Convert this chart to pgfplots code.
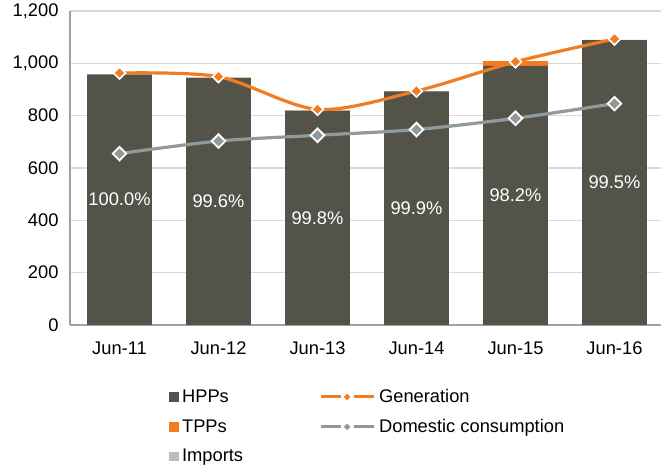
\documentclass[border=0pt]{standalone}
\usepackage{fontspec}
\setmainfont{Liberation Sans}
\usepackage{pgfplots}
\pgfplotsset{compat=1.18}

\definecolor{hppc}{HTML}{54534A}
\definecolor{tppc}{HTML}{F47B20}
\definecolor{impc}{HTML}{BFBDB3}
\definecolor{genc}{HTML}{F07D22}
\definecolor{domc}{HTML}{8F9A9A}
\definecolor{gridc}{HTML}{D9D9D9}
\definecolor{axc}{HTML}{A0A0A0}
\newcommand{\fs}{\fontsize{18.3}{22}\selectfont}

% x = Jun-11 ... Jun-16, values in GWh
\pgfplotstableread{
x hpp tpp imp
0 958  0 0
1 944  1 0
2 819  1 0
3 893  1 0
4 990 18 0
5 1089 1 0
}\bars

\pgfplotsset{
  base/.style={
    scale only axis, width=591pt, height=314pt,
    xmin=-0.5, xmax=5.47, ymin=0, ymax=1200,
  },
}

\begin{document}
\begin{tikzpicture}
\begin{axis}[
    base, name=ax,
    ybar stacked, bar width=0.655,
    ytick={0,200,...,1200},
    xtick={0,...,5},
    xticklabels={Jun-11,Jun-12,Jun-13,Jun-14,Jun-15,Jun-16},
    ymajorgrids, grid style={color=gridc, line width=1.2pt},
    axis x line*=bottom, axis y line*=left,
    axis line style={-, color=axc, line width=1.8pt},
    major tick length=0pt,
    tick label style={font=\fs},
    yticklabel style={xshift=-8pt},
    xticklabel style={yshift=-13pt},
    /pgf/number format/1000 sep={,},
    /pgf/number format/assume math mode=true,
]
\addplot[fill=hppc, draw=none] table[x=x, y=hpp] {\bars};
\addplot[fill=tppc, draw=none] table[x=x, y=tpp] {\bars};
\addplot[fill=impc, draw=none] table[x=x, y=imp] {\bars};
\end{axis}

\begin{axis}[
    base, axis lines=none,
    legend columns=2, legend cell align=left,
    legend style={at={(0.167,-0.205)}, anchor=north west, draw=none, fill=none,
      font=\fs, inner sep=0pt, row sep=15pt,
      nodes={inner xsep=4pt, inner ysep=0pt},
      /tikz/column 2/.style={column sep=72pt}},
]
\addplot[genc, line width=3.2pt, smooth, mark=square*, mark size=4.2pt,
  mark options={rotate=45, fill=genc, draw=white, line width=1.6pt}, forget plot]
  coordinates {(0,963) (1,949) (2,824) (3,894) (4,1006) (5,1093)};
\addplot[domc, line width=3.2pt, smooth, mark=square*, mark size=4.8pt,
  mark options={rotate=45, fill=domc, draw=white, line width=1.8pt}, forget plot]
  coordinates {(0,655) (1,703) (2,725) (3,747) (4,790) (5,846)};
% HPP share labels, placed at half bar height
\addplot[draw=none, mark=none, forget plot, point meta=explicit symbolic,
  nodes near coords={\pgfplotspointmeta\%},
  nodes near coords style={anchor=center, text=white, font=\fs}]
  table[meta=lab] {
x y lab
0 479 100.0
1 472 99.6
2 409.5 99.8
3 446.5 99.9
4 495 98.2
5 544.5 99.5
};
\addlegendimage{legend image code/.code={\fill[hppc] (0pt,-4.4pt) rectangle (8.8pt,4.4pt);}}
\addlegendentry{HPPs}
\addlegendimage{legend image code/.code={
  \draw[genc, line width=3pt] (0pt,0pt) -- (20pt,0pt) (33pt,0pt) -- (53pt,0pt);
  \fill[genc] (26.5pt,0pt) +(-3pt,0pt) -- +(0pt,3pt) -- +(3pt,0pt) -- +(0pt,-3pt) -- cycle;}}
\addlegendentry{Generation}
\addlegendimage{legend image code/.code={\fill[tppc] (0pt,-4.4pt) rectangle (8.8pt,4.4pt);}}
\addlegendentry{TPPs}
\addlegendimage{legend image code/.code={
  \draw[domc, line width=3pt] (0pt,0pt) -- (20pt,0pt) (33pt,0pt) -- (53pt,0pt);
  \fill[domc] (26.5pt,0pt) +(-3pt,0pt) -- +(0pt,3pt) -- +(3pt,0pt) -- +(0pt,-3pt) -- cycle;}}
\addlegendentry{Domestic consumption}
\addlegendimage{legend image code/.code={\fill[impc] (0pt,-4.4pt) rectangle (8.8pt,4.4pt);}}
\addlegendentry{Imports}
\end{axis}
\pgfresetboundingbox
\path ([xshift=-70pt, yshift=-145pt]ax.south west) rectangle ([yshift=11pt]ax.north east);
\end{tikzpicture}
\end{document}
